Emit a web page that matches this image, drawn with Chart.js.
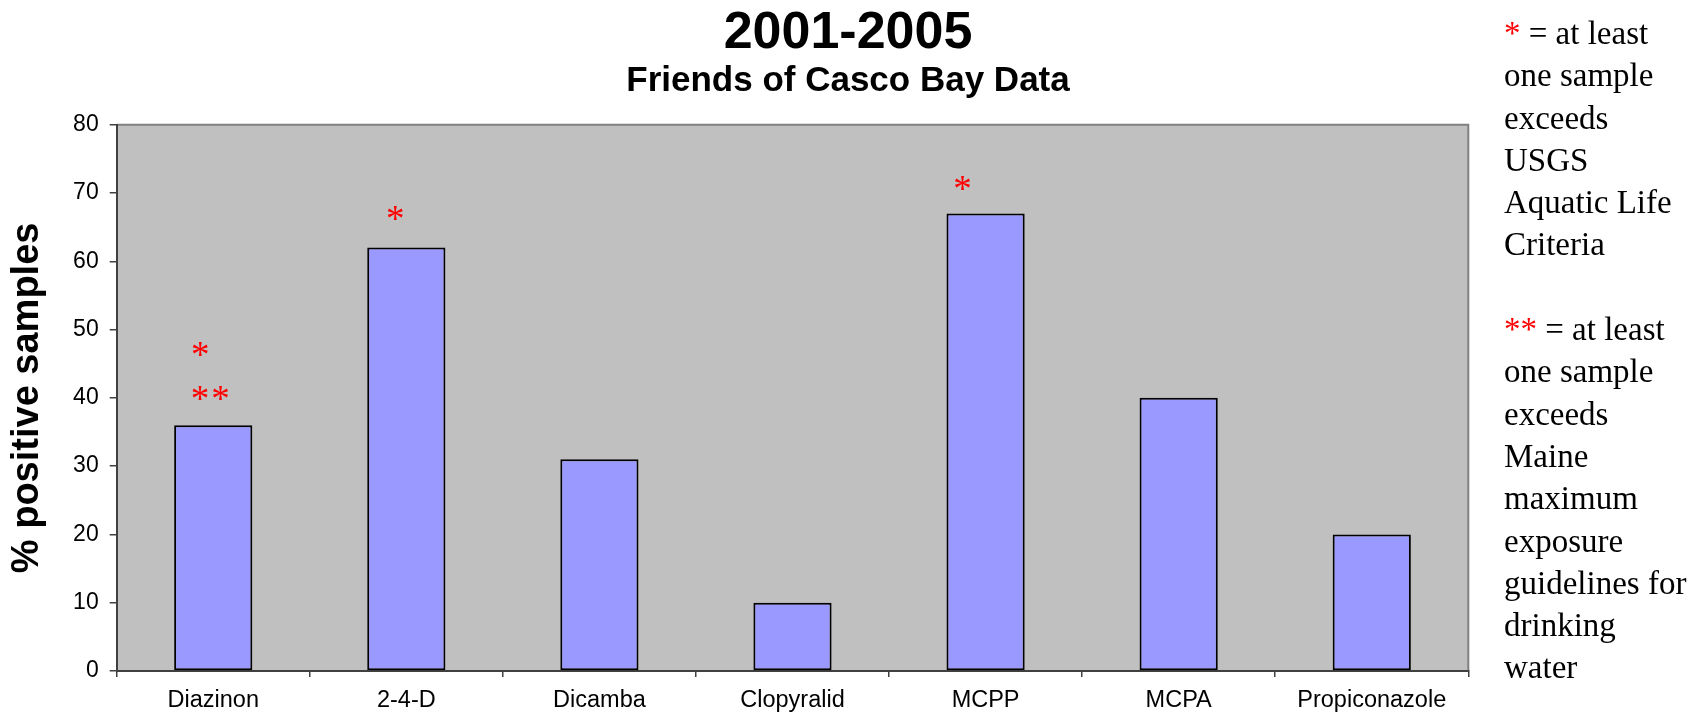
<!DOCTYPE html>
<html>
<head>
<meta charset="utf-8">
<script src="https://cdn.jsdelivr.net/npm/chart.js@4.4.1/dist/chart.umd.min.js"></script>
<style>
  body { margin: 0; background: #fff; }
  #wrap { position: relative; width: 1696px; height: 713px; }
  #note {
    position: absolute; left: 1504px; top: 12px;
    font-family: "Liberation Serif", "Times New Roman", serif;
    font-size: 33px; line-height: 42.3px; color: #000; white-space: nowrap;
  }
  #note .red { color: #ff0000; }
</style>
</head>
<body>
<div id="wrap">
  <canvas id="chart" width="1696" height="713"></canvas>
  <div id="note">
    <span class="red">*</span> = at least<br>one sample<br>exceeds<br>USGS<br>Aquatic Life<br>Criteria<br><br>
    <span class="red">**</span> = at least<br>one sample<br>exceeds<br>Maine<br>maximum<br>exposure<br>guidelines for<br>drinking<br>water
  </div>
</div>
<script>
// values
const chemicals = ['Diazinon', '2-4-D', 'Dicamba', 'Clopyralid', 'MCPP', 'MCPA', 'Propiconazole'];
const percentPositive = [36, 62, 31, 10, 67, 40, 20];
const yMin = 0, yMax = 80, yStep = 10;

// red asterisk notes above some bars (value = height on the y axis)
const starBars = ['Diazinon', 'Diazinon', '2-4-D', 'MCPP'];
const starText = ['*', '**', '*', '*'];
const starValues = [46.8, 40.4, 66.8, 71.2];
// pixel nudge left of the bar centre, like the text boxes in the original
const starNudge = [-12, -2, -10, -22];

const sans = '"Liberation Sans", Arial, sans-serif';

// grey plot area with the frame on top and right
const plotFrame = {
  id: 'plotFrame',
  beforeDraw(chart) {
    const { ctx, chartArea: a } = chart;
    ctx.save();
    ctx.fillStyle = '#c0c0c0';
    ctx.fillRect(a.left, a.top, a.width, a.height);
    ctx.strokeStyle = '#808080';
    ctx.lineWidth = 2;
    ctx.beginPath();
    ctx.moveTo(a.left, a.top);
    ctx.lineTo(a.right, a.top);
    ctx.lineTo(a.right, a.bottom);
    ctx.stroke();
    ctx.restore();
  }
};

const stars = {
  id: 'stars',
  afterDatasetsDraw(chart) {
    const { ctx, scales: { x, y } } = chart;
    ctx.save();
    ctx.fillStyle = '#ff0000';
    ctx.font = '37px "Liberation Serif", "Times New Roman", serif';
    ctx.textAlign = 'center';
    ctx.textBaseline = 'alphabetic';
    ctx.letterSpacing = '2px';
    starBars.forEach((bar, i) => {
      const px = x.getPixelForValue(chemicals.indexOf(bar)) + starNudge[i];
      const py = y.getPixelForValue(starValues[i]) + 16;
      ctx.fillText(starText[i], px, py);
    });
    ctx.restore();
  }
};

new Chart(document.getElementById('chart').getContext('2d'), {
  type: 'bar',
  data: {
    labels: chemicals,
    datasets: [{
      label: '% positive samples',
      data: percentPositive,
      backgroundColor: '#9999ff',
      borderColor: '#000',
      borderWidth: 2,
      borderSkipped: false,
      barPercentage: 0.405,
      categoryPercentage: 1
    }]
  },
  options: {
    responsive: false,
    animation: false,
    layout: { padding: 0 },
    plugins: {
      legend: { display: false },
      tooltip: { enabled: false },
      title: {
        display: true,
        text: '2001-2005',
        color: '#000',
        font: { family: sans, size: 52, weight: 'bold', lineHeight: 1 },
        padding: { top: 7.5, bottom: 0 }
      },
      subtitle: {
        display: true,
        text: 'Friends of Casco Bay Data',
        color: '#000',
        font: { family: sans, size: 35, weight: 'bold', lineHeight: 1 },
        padding: { top: 4, bottom: 26.2 }
      }
    },
    scales: {
      x: {
        grid: { display: true, drawOnChartArea: false, drawTicks: true, tickLength: 6, color: '#404040', lineWidth: 1.5, offset: true },
        border: { display: true, color: '#404040', width: 2 },
        ticks: { color: '#000', font: { family: sans, size: 23.5 }, padding: 9 },
        afterFit(s) { s.height = 42; }
      },
      y: {
        min: yMin,
        max: yMax,
        ticks: { stepSize: yStep, color: '#000', font: { family: sans, size: 23 }, padding: 11 },
        grid: { drawOnChartArea: false, drawTicks: true, tickLength: 7, color: '#404040', lineWidth: 1.5 },
        border: { display: true, color: '#404040', width: 2 },
        title: {
          display: true,
          text: '% positive samples',
          color: '#000',
          font: { family: sans, size: 38, weight: 'bold', lineHeight: 1 },
          padding: { top: 9, bottom: 0 }
        },
        afterFit(s) { s.width = 116.7; }
      },
      y2: {
        position: 'right',
        display: true,
        grid: { display: false },
        ticks: { display: false },
        border: { display: false },
        afterFit(s) { s.width = 227.7; }
      }
    }
  },
  plugins: [plotFrame, stars]
});
</script>
</body>
</html>
